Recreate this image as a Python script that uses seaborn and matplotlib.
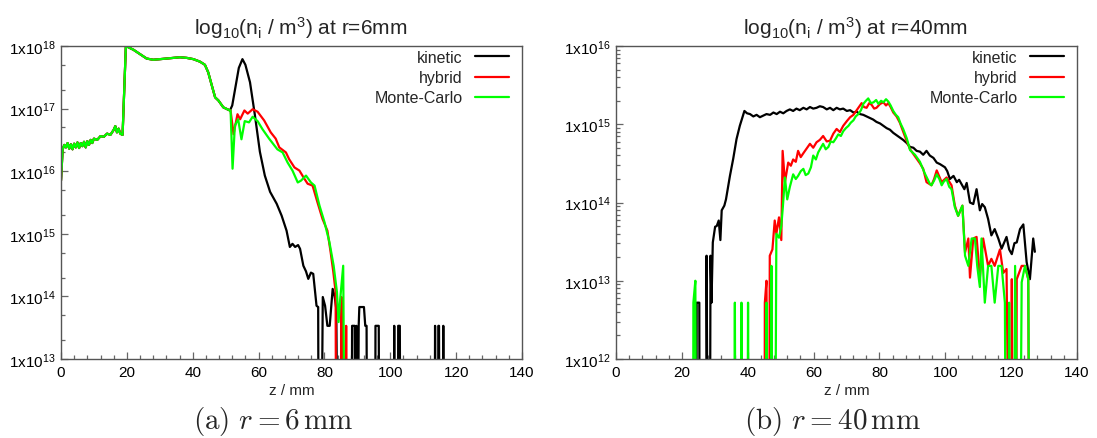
import numpy as np
import pandas as pd
import matplotlib
matplotlib.use("Agg")
import matplotlib.pyplot as plt
import matplotlib.ticker as mticker
import seaborn as sns

# ---------------- data (log10 of n_i / m^-3); 10.0 = below axis (no ions) ----------------
# r = 6 mm : common part (all three models coincide up to z ~ 51 mm)
left_common_z = [0, 0.5, 1, 1.5, 2, 2.5, 3, 3.5, 4, 4.5, 5, 5.5, 6, 6.5, 7, 7.5, 8, 8.5, 9, 9.5,
                 10, 11, 12, 13, 14, 15, 16, 16.5, 17, 17.5, 18, 18.7, 19.7, 22.0, 24.0, 26.0,
                 28.0, 30.1, 32.1, 34.1, 36.1, 38.2, 40.2, 42.2, 43.7, 44.7, 45.8, 46.8, 47.8,
                 49.3, 51.3]
left_common_v = [15.85, 16.35, 16.42, 16.38, 16.45, 16.36, 16.43, 16.35, 16.44, 16.38, 16.46,
                 16.37, 16.45, 16.40, 16.47, 16.38, 16.48, 16.42, 16.50, 16.45, 16.52, 16.50,
                 16.56, 16.55, 16.60, 16.58, 16.66, 16.72, 16.62, 16.68, 16.60, 16.58, 18.00,
                 17.94, 17.87, 17.80, 17.78, 17.79, 17.80, 17.81, 17.82, 17.81, 17.79, 17.75,
                 17.70, 17.58, 17.37, 17.18, 17.13, 17.02, 16.97]

left_kin_z = [52.0, 53.0, 54.0, 55.1, 56.0, 57.4, 58.9, 60.4, 61.9, 63.5, 65.5, 67.0, 68.5,
              69.5, 70.3, 71.1, 72.0, 72.6, 73.6, 74.4, 75.1, 75.9, 76.6, 77.6, 78.1, 78.3,
              78.9, 79.5, 80.2, 80.9, 81.6, 82.5, 83.1, 83.6, 84.2, 85.0, 85.2, 85.6, 88.2,
              88.4, 89.2, 89.4, 89.7, 90.1, 90.4, 90.6, 92.0, 92.4, 92.8, 93.0, 95.4, 95.5,
              96.5, 96.7, 101.0, 101.2, 101.4, 102.3, 102.4, 102.9, 103.1, 113.4, 113.6,
              113.8, 114.4, 114.6, 114.8, 115.0, 115.9, 116.1, 116.3]
left_kin_v = [17.05, 17.35, 17.65, 17.79, 17.70, 17.42, 16.89, 16.31, 15.93, 15.67, 15.48,
              15.29, 15.05, 14.79, 14.84, 14.79, 14.82, 14.76, 14.49, 14.40, 14.28, 14.38,
              14.36, 13.85, 13.83, 10.0, 10.0, 13.99, 13.85, 13.53, 13.53, 14.12, 14.00,
              13.80, 10.0, 10.0, 13.53, 10.0, 10.0, 13.53, 13.53, 10.0, 13.53, 10.0, 13.53,
              13.83, 13.83, 13.53, 13.53, 10.0, 10.0, 13.53, 13.53, 10.0, 10.0, 13.53, 10.0,
              10.0, 13.53, 13.53, 10.0, 10.0, 13.53, 10.0, 10.0, 13.53, 13.53, 10.0, 10.0,
              13.53, 10.0]

left_hyb_z = [51.5, 52.4, 53.6, 54.4, 55.7, 56.7, 58.2, 59.7, 61.7, 63.7, 65.2, 66.3, 68.3,
              69.3, 70.9, 72.4, 73.9, 74.9, 76.4, 77.9, 79.4, 80.9, 81.9, 82.7, 83.4, 83.6,
              84.9, 85.2, 85.6, 86.4, 86.6, 86.8]
left_hyb_v = [16.97, 16.59, 16.91, 16.83, 16.97, 16.92, 16.99, 16.95, 16.81, 16.62, 16.52,
              16.38, 16.30, 16.19, 16.06, 16.01, 15.88, 15.80, 15.77, 15.50, 15.24, 15.05,
              14.70, 14.39, 14.07, 10.0, 10.0, 13.99, 10.0, 10.0, 13.53, 10.0]

left_mc_z = [51.5, 52.1, 52.8, 53.8, 54.8, 55.8, 57.1, 58.2, 59.7, 61.2, 63.2, 65.7, 67.3,
             68.8, 70.3, 71.9, 72.9, 74.4, 75.9, 77.0, 78.5, 80.0, 81.5, 82.8, 83.8, 84.3,
             84.8, 85.7, 86.3]
left_mc_v = [16.97, 16.04, 16.73, 16.83, 16.51, 16.80, 16.78, 16.87, 16.80, 16.67, 16.52,
             16.35, 16.30, 16.14, 16.01, 15.82, 15.85, 15.93, 15.82, 15.77, 15.45, 15.19,
             14.87, 14.49, 14.07, 13.59, 13.96, 14.49, 10.0]

# r = 40 mm
right_kin_z = [24.4, 24.5, 25.3, 25.4, 27.4, 27.5, 27.9, 28.5, 28.7, 29.0, 29.4, 30.1, 30.6,
               31.2, 31.7, 32.1, 32.9, 33.4, 34.6, 35.6, 36.6, 37.6, 39.0, 39.8, 40.7, 41.7,
               42.7, 43.7, 44.7, 45.7, 46.8, 47.8, 48.8, 49.8, 50.8, 51.8, 52.8, 53.8, 54.8,
               55.8, 56.9, 57.9, 58.9, 59.9, 60.9, 61.9, 62.9, 64.0, 65.0, 66.0, 67.0, 68.0,
               69.0, 70.1, 71.1, 72.1, 73.1, 74.1, 75.1, 76.1, 77.1, 78.1, 79.1, 80.2, 81.2,
               82.2, 83.2, 84.2, 85.2, 86.2, 87.2, 88.3, 89.3, 90.3, 91.3, 92.3, 93.3, 94.3,
               95.3, 96.4, 97.4, 98.4, 99.9, 100.6, 101.4, 102.5, 103.5, 104.2, 105.0, 105.8,
               106.5, 107.5, 108.5, 109.5, 110.5, 111.2, 112.0, 113.0, 114.0, 115.0, 116.1,
               117.1, 118.6, 119.4, 120.2, 121.0, 121.7, 122.7, 123.7, 124.7, 125.7, 126.7,
               127.2]
right_kin_v = [10.0, 12.72, 12.72, 10.0, 10.0, 13.32, 10.0, 10.0, 13.32, 12.72, 13.49, 13.69,
               13.70, 13.77, 13.52, 13.90, 13.96, 14.04, 14.34, 14.56, 14.81, 14.98, 15.17,
               15.14, 15.13, 15.10, 15.12, 15.09, 15.11, 15.13, 15.12, 15.15, 15.13, 15.16,
               15.14, 15.17, 15.19, 15.17, 15.20, 15.18, 15.21, 15.19, 15.22, 15.20, 15.21,
               15.23, 15.22, 15.19, 15.21, 15.18, 15.21, 15.19, 15.20, 15.17, 15.18, 15.15,
               15.16, 15.13, 15.12, 15.10, 15.08, 15.06, 15.03, 15.01, 14.98, 14.95, 14.93,
               14.89, 14.86, 14.83, 14.80, 14.76, 14.71, 14.70, 14.66, 14.65, 14.61, 14.66,
               14.60, 14.57, 14.51, 14.49, 14.45, 14.40, 14.30, 14.34, 14.26, 14.29, 14.23,
               14.17, 14.25, 14.00, 13.98, 14.17, 13.90, 13.98, 13.94, 13.79, 13.58, 13.66,
               13.54, 13.41, 13.56, 13.40, 13.34, 13.48, 13.49, 13.66, 13.72, 13.24, 13.02,
               13.54, 13.37]

right_hyb_z = [45.1, 45.2, 45.7, 46.0, 46.5, 46.7, 47.5, 48.2, 48.7, 49.5, 50.2, 50.6, 51.3,
               52.3, 53.1, 53.8, 54.6, 55.3, 56.1, 56.9, 57.9, 58.9, 59.9, 60.9, 61.9, 62.9,
               64.0, 65.0, 66.0, 67.0, 68.0, 69.0, 70.1, 71.1, 72.1, 73.1, 74.6, 75.3, 76.1,
               76.9, 77.6, 78.4, 79.1, 80.2, 81.2, 82.0, 82.7, 83.4, 84.2, 85.2, 86.2, 87.7,
               89.3, 90.3, 91.3, 92.3, 93.3, 94.3, 95.8, 96.6, 97.4, 98.9, 100.4, 101.9,
               102.9, 103.9, 105.2, 106.0, 107.0, 107.5, 108.5, 109.5, 110.5, 111.5, 113.0,
               114.0, 115.0, 116.6, 117.6, 118.6, 119.4, 120.0, 120.2, 120.5, 121.5, 121.7,
               123.2, 124.2, 125.2, 125.5]
right_hyb_v = [10.0, 12.72, 13.00, 10.0, 10.0, 13.32, 13.40, 13.77, 13.60, 13.81, 13.52,
               14.66, 14.26, 14.51, 14.47, 14.55, 14.52, 14.66, 14.58, 14.63, 14.69, 14.75,
               14.70, 14.77, 14.80, 14.85, 14.78, 14.79, 14.88, 14.94, 14.90, 14.98, 15.04,
               15.09, 15.12, 15.18, 15.27, 15.22, 15.21, 15.27, 15.25, 15.20, 15.21, 15.26,
               15.28, 15.24, 15.27, 15.22, 15.15, 15.10, 15.02, 14.85, 14.68, 14.62, 14.56,
               14.50, 14.43, 14.26, 14.22, 14.30, 14.41, 14.26, 14.32, 14.22, 13.96, 13.83,
               13.96, 13.36, 13.54, 13.04, 13.54, 13.56, 13.04, 13.54, 13.19, 13.28, 13.19,
               13.40, 13.10, 13.15, 10.0, 10.0, 13.02, 10.0, 10.0, 13.02, 13.19, 13.19,
               13.02, 10.0]

right_mc_z = [23.4, 23.5, 24.1, 24.3, 35.9, 36.1, 36.3, 37.9, 38.1, 38.3, 39.9, 40.1, 40.3,
              45.5, 45.7, 46.0, 47.0, 47.2, 47.6, 48.3, 48.7, 49.5, 50.2, 50.7, 51.3, 52.0,
              52.8, 53.8, 54.6, 55.3, 56.1, 56.9, 57.6, 58.4, 59.2, 59.9, 60.7, 61.4, 62.2,
              62.9, 63.7, 64.5, 65.2, 66.0, 66.8, 67.5, 68.3, 69.0, 69.8, 70.6, 71.3, 72.1,
              72.8, 73.6, 74.4, 75.1, 75.9, 76.6, 77.4, 78.2, 79.0, 79.7, 80.5, 81.2, 82.0,
              82.7, 83.4, 84.2, 85.0, 85.7, 86.4, 87.2, 88.3, 89.3, 90.8, 92.3, 93.8, 95.3,
              95.8, 96.6, 97.4, 98.2, 98.9, 99.6, 100.4, 101.2, 101.9, 102.9, 103.9, 105.2,
              106.0, 107.0, 108.0, 109.0, 109.7, 110.5, 111.0, 112.0, 113.0, 114.0, 115.0,
              116.1, 117.1, 118.1, 118.4, 119.2, 119.4, 119.7, 120.9, 121.2, 122.2, 122.7,
              123.2, 124.2, 125.2, 125.6]
right_mc_v = [10.0, 12.72, 13.00, 10.0, 10.0, 12.72, 10.0, 10.0, 12.72, 10.0, 10.0, 12.72,
              10.0, 10.0, 12.72, 10.0, 10.0, 13.19, 10.0, 10.0, 13.60, 13.55, 13.70, 13.96,
              14.32, 14.04, 14.20, 14.36, 14.30, 14.34, 14.40, 14.43, 14.35, 14.37, 14.45,
              14.60, 14.55, 14.64, 14.70, 14.75, 14.68, 14.71, 14.78, 14.77, 14.82, 14.87,
              14.85, 14.91, 14.95, 14.98, 15.02, 15.05, 15.10, 15.13, 15.18, 15.26, 15.30,
              15.33, 15.27, 15.28, 15.31, 15.26, 15.30, 15.28, 15.32, 15.29, 15.24, 15.17,
              15.12, 15.09, 15.01, 14.94, 14.82, 14.67, 14.61, 14.52, 14.37, 14.24, 14.22,
              14.28, 14.36, 14.30, 14.22, 14.27, 14.30, 14.20, 14.17, 13.94, 13.83, 13.96,
              13.32, 13.19, 13.54, 13.54, 13.19, 12.92, 13.54, 12.72, 13.19, 13.19, 12.72,
              13.19, 13.19, 12.72, 10.0, 10.0, 12.72, 10.0, 10.0, 13.19, 10.0, 10.0, 12.98,
              13.19, 13.02, 10.0]

series_names = ["kinetic", "hybrid", "Monte-Carlo"]
series_colors = ["#000000", "#ff0000", "#00ff00"]
panel_titles = [r"log$_{10}$(n$_{\mathrm{i}}$ / m$^{3}$) at r=6mm",
                r"log$_{10}$(n$_{\mathrm{i}}$ / m$^{3}$) at r=40mm"]
panel_captions = [r"$\mathrm{(a)}\ r = 6\,\mathrm{mm}$", r"$\mathrm{(b)}\ r = 40\,\mathrm{mm}$"]
left_ydecades = [13, 14, 15, 16, 17, 18]
right_ydecades = [12, 13, 14, 15, 16]
x_ticks = [0, 20, 40, 60, 80, 100, 120, 140]


def frame(z, v, name):
    return pd.DataFrame({"z": z, "n": np.power(10.0, np.asarray(v, dtype=float)), "model": name})


left_df = pd.concat([
    frame(left_common_z + left_kin_z, left_common_v + left_kin_v, "kinetic"),
    frame(left_common_z + left_hyb_z, left_common_v + left_hyb_v, "hybrid"),
    frame(left_common_z + left_mc_z, left_common_v + left_mc_v, "Monte-Carlo"),
], ignore_index=True)
right_df = pd.concat([
    frame(right_kin_z, right_kin_v, "kinetic"),
    frame(right_hyb_z, right_hyb_v, "hybrid"),
    frame(right_mc_z, right_mc_v, "Monte-Carlo"),
], ignore_index=True)

# ---------------- style ----------------
sns.set_style("ticks")
plt.rcParams["font.family"] = ["Liberation Sans", "DejaVu Sans"]
plt.rcParams["mathtext.fontset"] = "custom"
plt.rcParams["mathtext.rm"] = "Liberation Sans"
plt.rcParams["mathtext.it"] = "Liberation Sans:italic"
plt.rcParams["mathtext.bf"] = "Liberation Sans:bold"

fig = plt.figure(figsize=(10.97, 4.39), dpi=100)
axL = fig.add_axes([61 / 1097, 1 - 360 / 439, 461 / 1097, 313 / 439])
axR = fig.add_axes([616 / 1097, 1 - 360 / 439, 461 / 1097, 313 / 439])

palette = dict(zip(series_names, series_colors))

for ax, df, decs, title, cap, capx in [
        (axL, left_df, left_ydecades, panel_titles[0], panel_captions[0], 0.46),
        (axR, right_df, right_ydecades, panel_titles[1], panel_captions[1], 0.47)]:
    sns.lineplot(data=df, x="z", y="n", hue="model", hue_order=series_names, palette=palette,
                 estimator=None, sort=False, linewidth=1.6, ax=ax)
    ax.set_yscale("log")
    ax.set_ylim(10.0 ** decs[0], 10.0 ** decs[-1])
    ax.set_xlim(0, 140)
    ax.set_xticks(x_ticks)
    ax.xaxis.set_minor_locator(mticker.MultipleLocator(4))
    ax.yaxis.set_major_locator(mticker.FixedLocator([10.0 ** d for d in decs]))
    ax.yaxis.set_major_formatter(mticker.FuncFormatter(
        lambda val, pos: r"1x10$^{%d}$" % int(round(np.log10(val)))))
    if ax is axL:
        ax.yaxis.set_minor_locator(mticker.LogLocator(base=10, subs=(2.0, 5.0), numticks=20))
    else:
        ax.yaxis.set_minor_locator(mticker.LogLocator(base=10, subs=np.arange(2, 10), numticks=20))
    ax.yaxis.set_minor_formatter(mticker.NullFormatter())
    ax.tick_params(axis="both", which="both", direction="in", colors="#666666",
                   labelcolor="black", labelsize=11, width=0.9,
                   bottom=True, left=True, top=False, right=False)
    ax.tick_params(axis="both", which="major", length=5, pad=4)
    ax.tick_params(axis="both", which="minor", length=3)
    for s in ax.spines.values():
        s.set_color("#555555")
        s.set_linewidth(1.0)
        s.set_visible(True)
    ax.set_xlabel("z / mm", fontsize=11, labelpad=3)
    ax.set_ylabel("")
    ax.set_title(title, fontsize=15, pad=9, x=0.52)
    leg = ax.legend(loc="upper right", bbox_to_anchor=(1 - 13 / 461, 1 - 4 / 313),
                    frameon=False, markerfirst=False, fontsize=11.5,
                    handlelength=2.1, handletextpad=0.8, labelspacing=0.32,
                    borderaxespad=0.0, borderpad=0.0)
    for t in leg.get_texts():
        t.set_ha("right")
    bb = ax.get_position()
    fig.text(bb.x0 + bb.width * capx, 0.04, cap, ha="center", va="center",
             fontsize=21, math_fontfamily="cm")

fig.savefig("out.png", dpi=100)
